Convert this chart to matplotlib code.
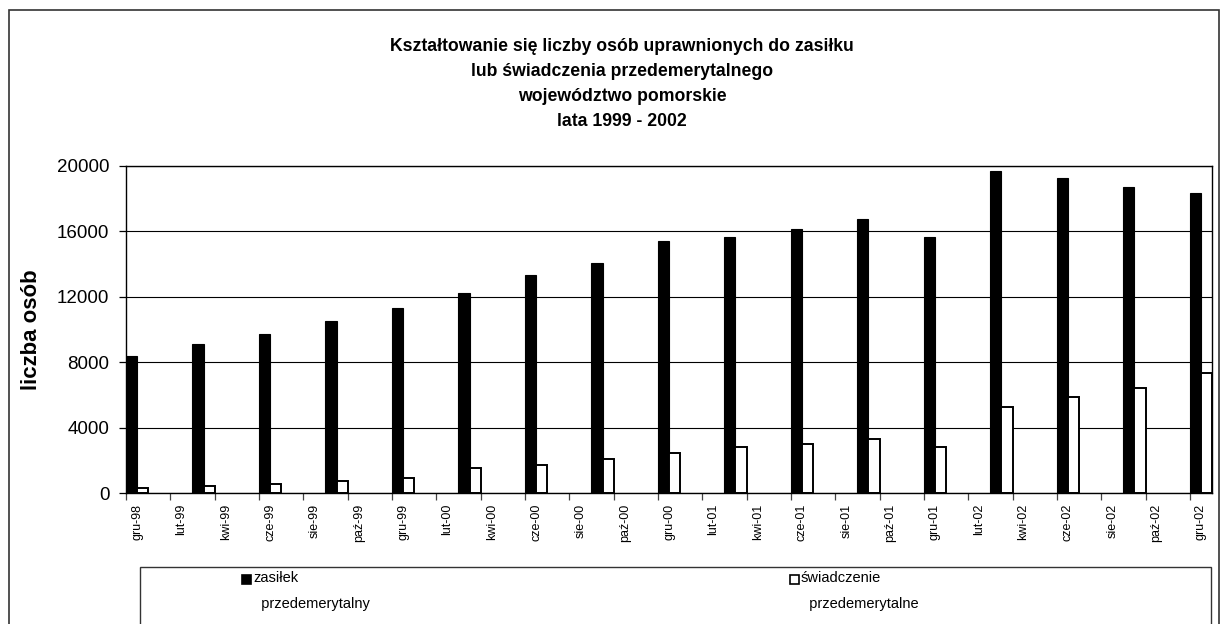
import matplotlib
matplotlib.use("Agg")
import matplotlib.pyplot as plt
from matplotlib.patches import Rectangle

# dane: stan na koniec miesiąca (co kwartał)
bar_months = ["1998-12", "1999-03", "1999-06", "1999-09", "1999-12",
              "2000-03", "2000-06", "2000-09", "2000-12",
              "2001-03", "2001-06", "2001-09", "2001-12",
              "2002-03", "2002-06", "2002-09", "2002-12"]
zasilek = [8400, 9100, 9700, 10500, 11300, 12250, 13330, 14090, 15410,
           15660, 16130, 16780, 15660, 19710, 19250, 18720, 18350]
swiadczenie = [320, 420, 560, 750, 940, 1550, 1730, 2100, 2470,
               2790, 2980, 3280, 2790, 5280, 5870, 6400, 7340]

tick_labels = ["gru-98", "lut-99", "kwi-99", "cze-99", "sie-99", "paź-99",
               "gru-99", "lut-00", "kwi-00", "cze-00", "sie-00", "paź-00",
               "gru-00", "lut-01", "kwi-01", "cze-01", "sie-01", "paź-01",
               "gru-01", "lut-02", "kwi-02", "cze-02", "sie-02", "paź-02",
               "gru-02"]

title = ("Kształtowanie się liczby osób uprawnionych do zasiłku\n"
         "lub świadczenia przedemerytalnego\n"
         "województwo pomorskie\n"
         "lata 1999 - 2002")


def month_index(s):
    y, m = s.split("-")
    return (int(y) - 1998) * 12 + int(m) - 12


x = [month_index(s) for s in bar_months]
x2 = [v + 0.5 for v in x]
tick_pos = list(range(0, 2 * len(tick_labels), 2))
label_pos = [t + 0.5 for t in tick_pos]   # etykieta w środku miesiąca

plt.rcParams["font.family"] = ["Liberation Sans", "DejaVu Sans"]
W, H = 1229, 624
fig = plt.figure(figsize=(W / 100, H / 100), dpi=100)

# ramka całego wykresu
fig.patches.append(Rectangle((9 / W, -0.05), 1210 / W, 1 - 10 / H + 0.05,
                             transform=fig.transFigure, fill=False,
                             edgecolor="#333333", lw=1.2))

ax = fig.add_axes([126 / W, 1 - 493 / H, (1212 - 126) / W, (493 - 166) / H])
ax.bar(x, zasilek, width=0.5, align="edge", color="black",
       edgecolor="black", lw=0.8, zorder=3)
ax.bar(x2, swiadczenie, width=0.5, align="edge", color="white",
       edgecolor="black", lw=1.4, zorder=3)

ax.set_xlim(0, 49)
ax.set_ylim(0, 20000)
ax.set_yticks(range(0, 20001, 4000))
ax.yaxis.grid(True, color="black", lw=0.8, zorder=0)

ax.set_xticks(tick_pos)
ax.set_xticklabels([])
ax.set_xticks(label_pos, minor=True)
ax.set_xticklabels(tick_labels, minor=True, rotation=90, fontsize=9)
ax.tick_params(axis="x", which="major", length=5, width=0.9, color="#444444")
ax.tick_params(axis="x", which="minor", length=0, pad=8)
ax.tick_params(axis="y", labelsize=13.5, length=5, width=0.9, pad=7)
for sp in ax.spines.values():
    sp.set_color("black")
    sp.set_linewidth(1.0)
ax.set_ylabel("liczba osób", fontsize=16, fontweight="bold")
ax.yaxis.set_label_coords((42 - 126) / 1086, 0.5)

fig.text(622 / W, 1 - 38 / H, title, ha="center", va="top", fontsize=12.7,
         fontweight="bold", linespacing=1.62)

# legenda
fig.patches.append(Rectangle((140 / W, -0.05), (1211 - 140) / W, 0.05 + 1 - 567 / H,
                             transform=fig.transFigure, fill=False,
                             edgecolor="#333333", lw=1.0))
for (px, face, label) in [(242, "black", "zasiłek\n  przedemerytalny"),
                          (790, "white", "świadczenie\n  przedemerytalne")]:
    fig.patches.append(Rectangle((px / W, 1 - 584 / H), 9 / W, 9 / H,
                                 transform=fig.transFigure, facecolor=face,
                                 edgecolor="black", lw=1.2))
    fig.text((px + 11) / W, 1 - 571 / H, label, ha="left", va="top",
             fontsize=10.5, linespacing=2.05)

fig.savefig("out.png", dpi=100, facecolor="white")
